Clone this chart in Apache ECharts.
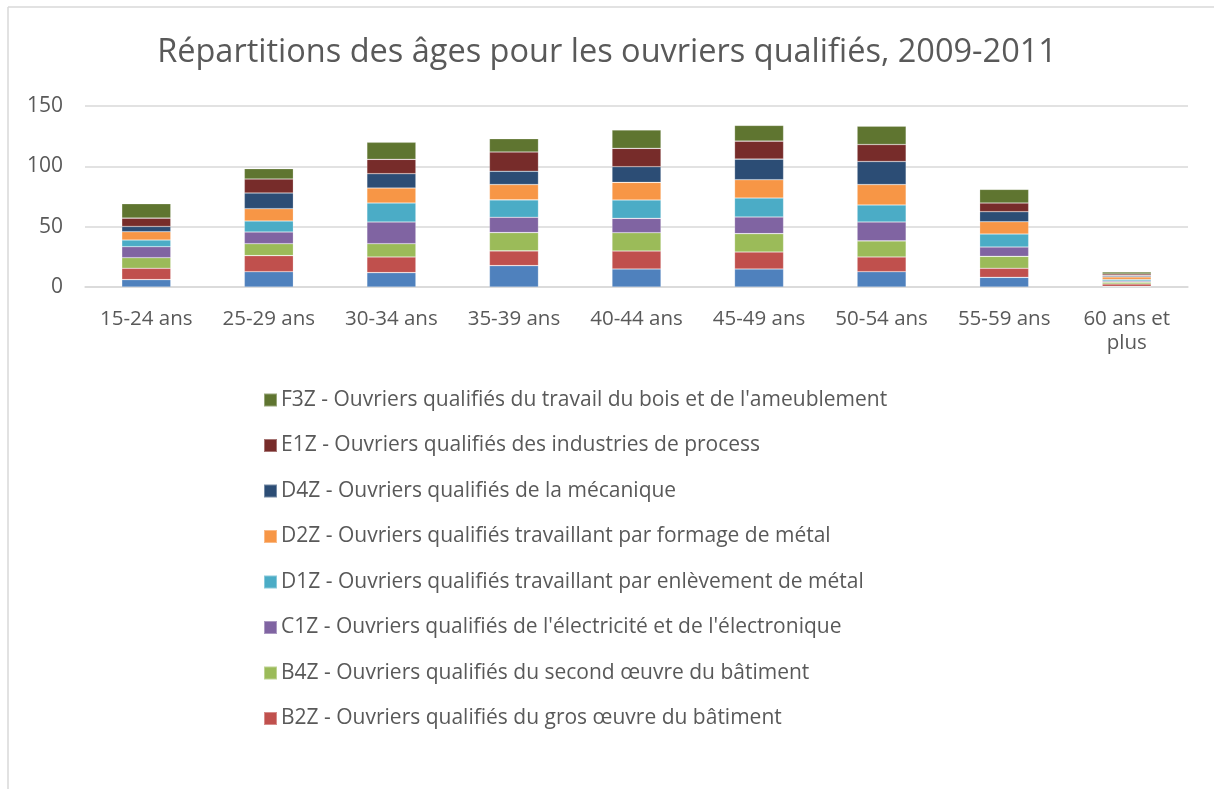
<!DOCTYPE html>
<html>
<head>
<meta charset="utf-8">
<script src="https://cdn.jsdelivr.net/npm/echarts@6/dist/echarts.min.js"></script>
<style>
  html, body { margin: 0; padding: 0; background: #fff; }
  #chart { width: 1214px; height: 789px; }
</style>
</head>
<body>
<div id="chart"></div>
<script>
  // catégories d'âge
  const categories = ['15-24 ans', '25-29 ans', '30-34 ans', '35-39 ans', '40-44 ans',
    '45-49 ans', '50-54 ans', '55-59 ans', '60 ans et plus'];

  // valeurs (milliers)
  const b1z = [6.1, 12.7, 11.9, 17.7, 14.9, 14.9, 12.7, 8.0, 0.5];
  const b2z = [9.4, 13.3, 13.0, 12.2, 14.9, 14.1, 12.2, 7.5, 2.0];
  const b4z = [8.8, 9.9, 11.0, 15.2, 15.2, 15.2, 13.3, 9.9, 1.5];
  const c1z = [9.1, 9.7, 18.0, 12.7, 11.9, 13.8, 15.7, 7.7, 1.0];
  const d1z = [5.5, 9.1, 15.7, 14.4, 15.2, 15.7, 14.1, 10.8, 1.2];
  const d2z = [6.9, 10.2, 12.4, 12.7, 14.6, 15.2, 16.9, 10.2, 2.2];
  const d4z = [4.4, 13.0, 11.9, 11.0, 13.0, 17.1, 19.1, 8.3, 1.0];
  const e1z = [6.9, 11.6, 11.9, 16.0, 15.2, 14.9, 14.1, 7.2, 1.4];
  const f3z = [11.9, 8.6, 14.1, 11.0, 15.2, 13.0, 15.2, 11.3, 1.7];

  const yTicks = [0, 50, 100, 150];

  const seriesDefs = [
    { name: "B1Z - Ouvriers qualifiés des travaux publics, du béton et de l'extraction", data: b1z, color: '#4F81BD' },
    { name: 'B2Z - Ouvriers qualifiés du gros œuvre du bâtiment', data: b2z, color: '#C0504D' },
    { name: 'B4Z - Ouvriers qualifiés du second œuvre du bâtiment', data: b4z, color: '#9BBB59' },
    { name: "C1Z - Ouvriers qualifiés de l'électricité et de l'électronique", data: c1z, color: '#8064A2' },
    { name: 'D1Z - Ouvriers qualifiés travaillant par enlèvement de métal', data: d1z, color: '#4BACC6' },
    { name: 'D2Z - Ouvriers qualifiés travaillant par formage de métal', data: d2z, color: '#F79646' },
    { name: 'D4Z - Ouvriers qualifiés de la mécanique', data: d4z, color: '#2C4D75' },
    { name: 'E1Z - Ouvriers qualifiés des industries de process', data: e1z, color: '#772C2A' },
    { name: "F3Z - Ouvriers qualifiés du travail du bois et de l'ameublement", data: f3z, color: '#5F7530' }
  ];

  // la légende d'origine est coupée : la série bleue n'y apparaît pas
  const legendNames = seriesDefs.slice(1).map(s => s.name).reverse();

  const font = 'Open Sans';
  const chart = echarts.init(document.getElementById('chart'));

  chart.setOption({
    backgroundColor: '#fff',
    animation: false,
    textStyle: { fontFamily: font },
    title: {
      text: 'Répartitions des âges pour les ouvriers qualifiés, 2009-2011',
      left: 'center',
      top: 31,
      textStyle: { fontFamily: font, fontSize: 32.5, fontWeight: 'normal', color: '#595959' }
    },
    grid: { left: 85, right: 26, top: 106, bottom: 502 },
    xAxis: {
      type: 'category',
      data: categories,
      axisLine: { lineStyle: { color: '#D9D9D9', width: 1.5 } },
      axisTick: { show: false },
      axisLabel: {
        color: '#595959', fontSize: 20.5, fontFamily: font, margin: 20, lineHeight: 24,
        formatter: v => v.replace(' plus', '\nplus')
      }
    },
    yAxis: {
      type: 'value',
      min: yTicks[0],
      max: yTicks[yTicks.length - 1],
      interval: 50,
      axisLine: { show: false },
      axisTick: { show: false },
      splitLine: { lineStyle: { color: '#D9D9D9', width: 1.5 } },
      axisLabel: { color: '#595959', fontSize: 21, fontFamily: font, margin: 22 }
    },
    legend: {
      orient: 'vertical',
      left: 263,
      top: 388,
      padding: 0,
      data: legendNames,
      itemWidth: 13,
      itemHeight: 13,
      itemGap: 21.5,
      icon: 'rect',
      textStyle: { color: '#595959', fontSize: 21, fontFamily: font, lineHeight: 24, padding: [0, 0, 0, -1] }
    },
    graphic: [
      { type: 'line', shape: { x1: 8, y1: 7, x2: 8, y2: 789 }, style: { stroke: '#D9D9D9', lineWidth: 1.5 } },
      { type: 'line', shape: { x1: 8, y1: 7, x2: 1214, y2: 7 }, style: { stroke: '#D9D9D9', lineWidth: 1.5 } }
    ],
    series: seriesDefs.map(s => ({
      name: s.name,
      type: 'bar',
      stack: 'total',
      barWidth: '40%',
      data: s.data,
      itemStyle: { color: s.color, borderColor: 'rgba(255,255,255,0.35)', borderWidth: 0.6 }
    }))
  });
</script>
</body>
</html>
